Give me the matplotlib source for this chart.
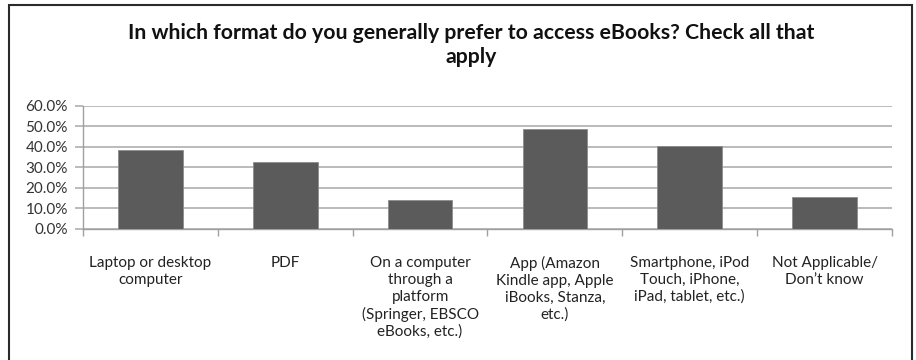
import numpy as np
import matplotlib as mpl
mpl.use("Agg")
import matplotlib.pyplot as plt
from matplotlib.patches import Rectangle

plt.rcParams['font.family'] = ['Lato', 'DejaVu Sans']

categories = ['Laptop or desktop\ncomputer',
              'PDF',
              'On a computer\nthrough a\nplatform\n(Springer, EBSCO\neBooks, etc.)',
              'App (Amazon\nKindle app, Apple\niBooks, Stanza,\netc.)',
              'Smartphone, iPod\nTouch, iPhone,\niPad, tablet, etc.)',
              'Not Applicable/\nDon\u2019t know']
values = [38.2, 32.6, 14.0, 48.8, 40.2, 15.2]   # percent
yticks = [0, 10, 20, 30, 40, 50, 60]
title = 'In which format do you generally prefer to access eBooks? Check all that\napply'

fig = plt.figure(figsize=(9.16, 3.6), dpi=100)
ax = fig.add_axes([83/916, 1 - 228.5/360, (892-83)/916, (228.5-105.7)/360])

x = np.arange(len(values))
ax.bar(x, values, width=0.48, color='#5b5b5b', edgecolor='#8c8c8c',
       linewidth=0.6, zorder=3)

ax.set_xlim(-0.5, len(values) - 0.5)
ax.set_ylim(0, 60)
ax.set_yticks(yticks)
ax.set_yticklabels(['%.1f%%' % v for v in yticks], fontsize=11, color='#333333')
ax.yaxis.grid(True, color='#b5b5b5', linewidth=1.3, zorder=0)
ax.tick_params('y', length=6, width=1.3, color='#b5b5b5', pad=5)

ax.set_xticks(x)
ax.set_xticklabels(categories, fontsize=11, color='#222222', linespacing=1.25,
                   family=['Liberation Sans Narrow', 'Lato'])
ax.tick_params('x', which='major', length=0, pad=20)
ax.set_xticks(np.arange(-0.5, len(values)), minor=True)
ax.tick_params('x', which='minor', length=5, width=1.0, color='#a0a0a0')

for side in ['top', 'right']:
    ax.spines[side].set_visible(False)
for side in ['left', 'bottom']:
    ax.spines[side].set_color('#a0a0a0')
    ax.spines[side].set_linewidth(1.0)

fig.text(471.5/916, 1 - 45/360, title, ha='center', va='center',
         fontsize=15.3, fontweight='bold', color='#111111', linespacing=1.2)

# frame around the chart (bottom edge falls outside the image)
fig.patches.append(Rectangle((9/916, -0.1), (912-9)/916, 1.1 - 5/360,
                             transform=fig.transFigure, fill=False,
                             edgecolor='#2a2a2a', linewidth=1.5))

fig.savefig('out.png', dpi=100)
plt.close(fig)
